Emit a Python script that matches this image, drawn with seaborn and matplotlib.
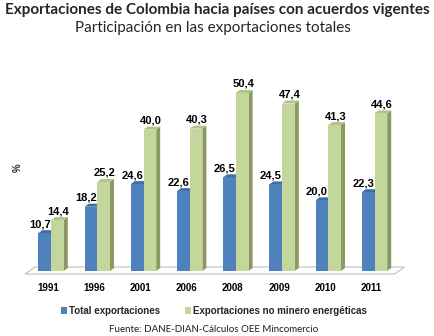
import numpy as np
import pandas as pd
import matplotlib
matplotlib.use("Agg")
import matplotlib.pyplot as plt
import seaborn as sns
from matplotlib.patches import Polygon, Patch
from matplotlib.transforms import ScaledTranslation

years = ["1991", "1996", "2001", "2006", "2008", "2009", "2010", "2011"]
total = [10.7, 18.2, 24.6, 22.6, 26.5, 24.5, 20.0, 22.3]
no_minero = [14.4, 25.2, 40.0, 40.3, 50.4, 47.4, 41.3, 44.6]
series_names = ["Total exportaciones", "Exportaciones no minero energéticas"]

title = "Exportaciones de Colombia hacia países con acuerdos vigentes"
subtitle = "Participación en las exportaciones totales"
source = "Fuente: DANE-DIAN-Cálculos OEE Mincomercio"

face = ["#4F81BD", "#C3D69B"]
side = ["#365F91", "#8A9A62"]
top = ["#3F6EA8", "#B0C585"]

df = pd.DataFrame({
    "year": years * 2,
    "value": total + no_minero,
    "series": [series_names[0]] * len(years) + [series_names[1]] * len(years),
})

sns.set_theme(style="white")
plt.rcParams["font.family"] = ["Liberation Sans", "DejaVu Sans"]

W, H = 434, 336
fig = plt.figure(figsize=(W / 100, H / 100), dpi=100)
ax = fig.add_axes([25 / W, (H - 274) / H, 369.6 / W, 212 / H])

sns.barplot(data=df, x="year", y="value", hue="series", palette=face,
            width=0.55, dodge=True, saturation=1, legend=False, ax=ax,
            zorder=3)
ax.set_xlim(-0.5, len(years) - 0.5)
ax.set_ylim(0, 60)

# pixel -> data conversion
px_x = (len(years)) / ax.bbox.width
px_y = 60 / ax.bbox.height
shift = ScaledTranslation(3 / 100, 3 / 100, fig.dpi_scale_trans)
ddx, ddy = 4 * px_x, 3 * px_y

for k, cont in enumerate(ax.containers):
    for p in cont.patches:
        p.set_transform(ax.transData + shift)
        p.set_edgecolor("none")
        x, w, h = p.get_x(), p.get_width(), p.get_height()
        sidep = Polygon([(x + w, 0), (x + w + ddx, ddy), (x + w + ddx, h + ddy), (x + w, h)],
                        closed=True, facecolor=side[k], edgecolor="none",
                        transform=ax.transData + shift, zorder=2.5)
        topp = Polygon([(x, h), (x + ddx, h + ddy), (x + w + ddx, h + ddy), (x + w, h)],
                       closed=True, facecolor=top[k], edgecolor="none",
                       transform=ax.transData + shift, zorder=2.5)
        ax.add_patch(sidep)
        ax.add_patch(topp)
        xo = -5 if k == 0 else 1
        ax.annotate(f"{h:.1f}".replace(".", ","), (x + w / 2, h),
                    xytext=(xo + 3, 9 + 3), textcoords="offset pixels",
                    ha="center", va="center", fontsize=8, fontweight="bold",
                    color="black", annotation_clip=False)

# floor
fdx, fdy = 10 * px_x, 7 * px_y
x0, x1 = -0.5, len(years) - 0.5
floor = Polygon([(x0, 0), (x1, 0), (x1 + fdx, fdy), (x0 + fdx, fdy)], closed=True,
                facecolor="white", edgecolor="#BFBFBF", linewidth=0.8,
                zorder=1, clip_on=False)
ax.add_patch(floor)

for s in ax.spines.values():
    s.set_visible(False)
ax.set_yticks([])
ax.set_xlabel("")
ax.set_ylabel("")
ax.set_xticks(np.arange(-0.5, len(years)), minor=True)
ax.tick_params(axis="x", which="minor", length=3, color="#A6A6A6", width=0.8, direction="out")
ax.tick_params(axis="x", which="major", length=0, pad=6.5)
for lbl in ax.get_xticklabels():
    lbl.set_fontsize(7)
    lbl.set_fontweight("bold")
    lbl.set_color("black")

fig.text(18 / W, 1 - 168 / H, "%", rotation=90, ha="center", va="center",
         fontsize=7, fontweight="bold")

fig.text(217.5 / W, 1 - 10 / H, title, ha="center", va="center",
         fontsize=11, fontweight="bold", family=["Lato", "DejaVu Sans"])
fig.text(212.5 / W, 1 - 28 / H, subtitle, ha="center", va="center",
         fontsize=11, family=["Lato", "DejaVu Sans"])
fig.text(214 / W, 1 - 329 / H, source, ha="center", va="center",
         fontsize=7, family=["Lato", "DejaVu Sans"], color="#1F1F1F")

handles = [Patch(facecolor=face[0], edgecolor="none"), Patch(facecolor=face[1], edgecolor="none")]
leg = fig.legend(handles, series_names, loc="center", bbox_to_anchor=(214 / W, 1 - 311 / H),
                 ncol=2, frameon=False, handlelength=0.6, handleheight=0.6,
                 handletextpad=0.2, columnspacing=2.6, prop={"size": 7, "weight": "bold"})

fig.savefig("out.png", dpi=100)
